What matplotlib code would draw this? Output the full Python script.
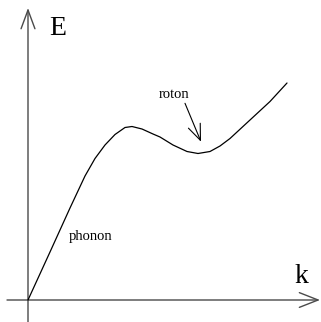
import matplotlib
matplotlib.use("Agg")
import matplotlib.pyplot as plt
from matplotlib.patches import FancyArrowPatch

# Dispersion curve (arbitrary units, origin at axes crossing)
k_vals = [0, 22, 42, 57, 67, 77, 87, 97, 104, 114, 125, 132, 145, 159,
          170, 182, 192, 202, 222, 242, 259]
E_vals = [0, 48, 92, 124, 141.5, 155, 165.5, 172.5, 173.5, 171, 166, 163,
          155, 148.5, 146.5, 148.5, 154, 161.5, 180, 198.5, 217]

axis_labels = ["E", "k"]
annotations = ["roton", "phonon"]

fig = plt.figure(figsize=(3.21, 3.22), dpi=100)
ax = fig.add_axes([0, 0, 1, 1])
ax.set_xlim(-28, 293)
ax.set_ylim(-22, 300)
ax.axis("off")

axis_color = "#4a4a4a"
# vertical axis
ax.add_patch(FancyArrowPatch((0, -22), (0, 292), arrowstyle="->,head_length=13.5,head_width=5",
                             mutation_scale=1, shrinkA=0, shrinkB=0, lw=1.0, color=axis_color))
# horizontal axis
ax.add_patch(FancyArrowPatch((-21, 0), (292, 0), arrowstyle="->,head_length=13.5,head_width=5.3",
                             mutation_scale=1, shrinkA=0, shrinkB=0, lw=1.0, color=axis_color))

ax.plot(k_vals, E_vals, color="black", lw=0.9, solid_capstyle="round", solid_joinstyle="round")

font = "Liberation Serif"
ax.text(30, 265, axis_labels[0], fontsize=20, family=font, ha="center", va="baseline")
ax.text(273.5, 17, axis_labels[1], fontsize=20, family=font, ha="center", va="baseline")
ax.text(146, 202, annotations[0], fontsize=10.5, family=font, ha="center", va="baseline")
ax.text(63, 60, annotations[1], fontsize=10.5, family=font, ha="center", va="baseline")

ax.add_patch(FancyArrowPatch((157, 196.7), (173, 158.3), arrowstyle="->,head_length=11.4,head_width=4.6",
                             mutation_scale=1, shrinkA=0, shrinkB=0, lw=0.8, color="black"))

fig.savefig("out.png", dpi=100)
